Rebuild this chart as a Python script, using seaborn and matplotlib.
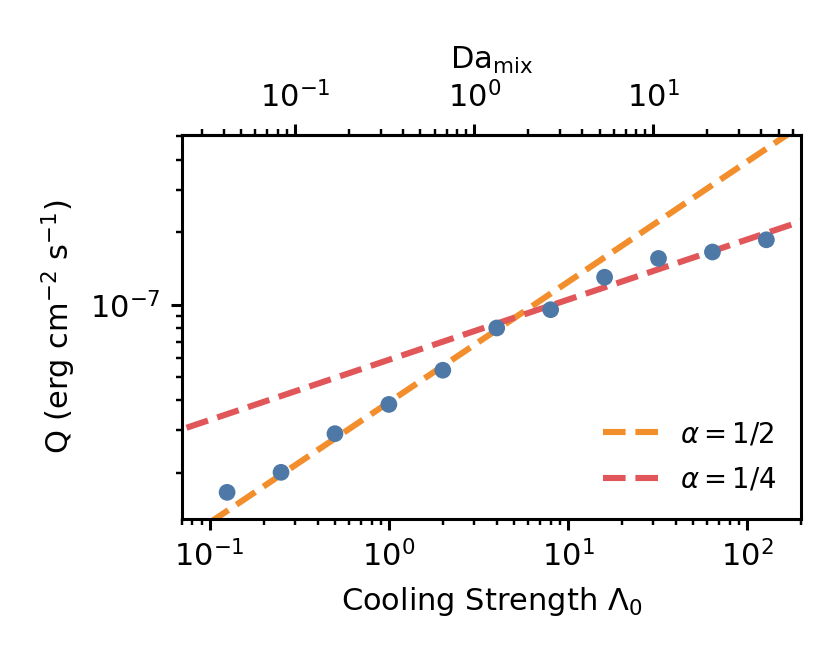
import numpy as np
import pandas as pd
import matplotlib
matplotlib.use('Agg')
import matplotlib.pyplot as plt
import seaborn as sns

# ===================== data =====================
cooling = [0.125, 0.25, 0.5, 1, 2, 4, 8, 16, 32, 64, 128]
flux = [1.66e-8, 2.01e-8, 2.91e-8, 3.85e-8, 5.34e-8, 8.0e-8,
        9.53e-8, 1.30e-7, 1.556e-7, 1.655e-7, 1.86e-7]
flux_err = [1.2e-9, 6e-10, 8e-10, 9e-10, 1.2e-9, 3.0e-9,
            2.0e-9, 2.5e-9, 3.0e-9, 3.5e-9, 8.0e-9]

# power-law reference lines: Q = amp * Lambda^alpha
fit_alpha = [0.5, 0.25]
fit_amp = [3.93e-8, 5.9e-8]
fit_labels = [r'$\alpha = 1/2$', r'$\alpha = 1/4$']
fit_colors = ['#f28e2b', '#e15759']
fit_x = [0.05, 300]

da_factor = 3.0  # Da_mix = Lambda_0 / 3
da_ticks = [0.1, 1, 10]

# ===================== plot =====================
plt.rcParams['axes.linewidth'] = 1.0
plt.rcParams['xtick.major.width'] = 1.0
plt.rcParams['ytick.major.width'] = 1.0
plt.rcParams['xtick.minor.width'] = 0.8
plt.rcParams['ytick.minor.width'] = 0.8

fig, ax = plt.subplots(figsize=(831 / 220, 665 / 220), dpi=220)
fig.subplots_adjust(left=0.219, right=0.964, top=0.797, bottom=0.22)

for a, amp, lab, col in zip(fit_alpha, fit_amp, fit_labels, fit_colors):
    xs = np.array(fit_x, dtype=float)
    df_fit = pd.DataFrame({'x': xs, 'y': amp * xs ** a})
    sns.lineplot(data=df_fit, x='x', y='y', ax=ax, color=col, lw=2.0,
                 linestyle='--', label=lab)

df = pd.DataFrame({'cooling': cooling, 'flux': flux, 'err': flux_err})
ax.errorbar(df['cooling'], df['flux'], yerr=df['err'], fmt='none',
            ecolor='#4e79a7', elinewidth=1.3, zorder=3)
sns.scatterplot(data=df, x='cooling', y='flux', ax=ax, color='#4e79a7',
                s=30, edgecolor='none', zorder=4, legend=False)

ax.set_xscale('log')
ax.set_yscale('log')
ax.set_xlim(0.07, 200)
ax.set_ylim(1.29e-8, 5.07e-7)

ax.set_xlabel(r'Cooling Strength $\Lambda_0$')
ax.set_ylabel(r'Q (erg cm$^{-2}$ s$^{-1}$)')

top = ax.secondary_xaxis('top', functions=(lambda x: x / da_factor,
                                           lambda x: x * da_factor))
top.set_xticks(da_ticks)
top.set_xlabel(r'Da$_{\mathrm{mix}}$')

ax.legend(loc='lower right', frameon=False, fontsize=9, labelspacing=0.65)

plt.savefig('out.png', dpi=220)
plt.close()
